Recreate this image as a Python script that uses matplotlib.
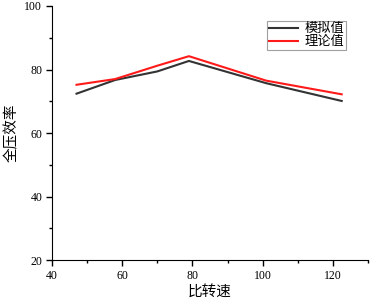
import matplotlib.pyplot as plt
from matplotlib.ticker import MultipleLocator

plt.rcParams['font.family'] = ['Liberation Serif', 'Noto Sans CJK SC']

x_vals = [47, 58, 70, 79, 101, 122.5]
sim_vals = [72.4, 76.7, 79.4, 82.7, 75.7, 70.1]
theory_vals = [75.2, 77.0, 81.2, 84.2, 76.5, 72.2]

fig = plt.figure(figsize=(3.71, 3.0), dpi=100)
ax = fig.add_axes([0.140, 0.133, 0.852, 0.847])

ax.plot(x_vals, sim_vals, color="#333333", lw=1.5, label="模拟值")
ax.plot(x_vals, theory_vals, color="#ff1a1a", lw=1.5, label="理论值")

ax.set_xlim(40, 130)
ax.set_ylim(20, 100)
ax.xaxis.set_major_locator(MultipleLocator(20))
ax.xaxis.set_minor_locator(MultipleLocator(10))
ax.yaxis.set_major_locator(MultipleLocator(20))
ax.yaxis.set_minor_locator(MultipleLocator(10))
ax.spines["top"].set_visible(False)
ax.spines["right"].set_visible(False)
ax.tick_params(which="major", length=4, width=1, labelsize=8.5, pad=3)
ax.tick_params(which="minor", length=2.5, width=1)

ax.set_xlabel("比转速", fontsize=10.5, labelpad=2)
ax.set_ylabel("全压效率", fontsize=10.5, labelpad=4)

leg = ax.legend(loc="upper right", bbox_to_anchor=(0.93, 0.94), fontsize=9.5,
                frameon=True, fancybox=False, edgecolor="#888888",
                handlelength=2.2, borderpad=0.15, labelspacing=0.05,
                handletextpad=0.5, borderaxespad=0)
leg.get_frame().set_linewidth(0.8)

fig.savefig("out.png", dpi=100)
